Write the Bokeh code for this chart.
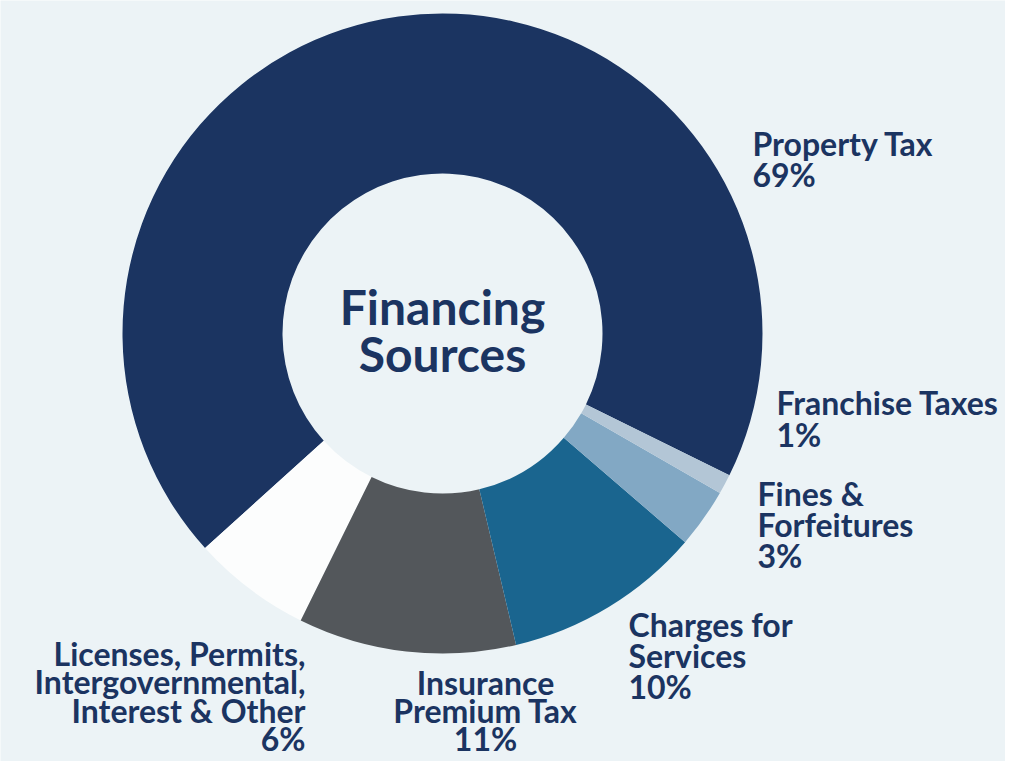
import math
from bokeh.plotting import figure
from bokeh.models import Range1d, ColumnDataSource
from bokeh.core.properties import value
from bokeh.embed import file_html
from bokeh.resources import INLINE

# ---- data ----
categories = ["Property Tax", "Licenses, Permits,\nIntergovernmental,\nInterest & Other",
              "Insurance\nPremium Tax", "Charges for\nServices", "Fines &\nForfeitures",
              "Franchise Taxes"]
percents = [69, 6, 11, 10, 3, 1]
colors = ["#1b3461", "#fcfdfd", "#53575b", "#1a658f", "#82a8c4", "#b3c6d6"]
center_title = ["Financing", "Sources"]

# ---- layout ----
W, H = 1005, 761
BG = "#ecf3f6"
TXT = "#1b3461"
FONT = "Lato"
cx, cy = 442, H - 333          # donut centre
r_out, r_in = 320, 160
start_deg = -26.3
LBL_SIZE, LBL_OFF = 32, 12
TTL_SIZE, TTL_OFF = 48, 19

# label anchors: (x, first baseline from top, line height, align)
label_pos = [(752, 155, 31, "left"), (305, 665, 28.3, "right"), (485, 694, 28, "center"),
             (628, 636, 31, "left"), (757, 505, 31, "left"), (776, 414, 32, "left")]

p = figure(width=W, height=H, output_backend="svg", toolbar_location=None,
           x_range=Range1d(0, W), y_range=Range1d(0, H), min_border=0,
           background_fill_color=BG, border_fill_color=BG)
p.axis.visible = False
p.grid.visible = False
p.outline_line_color = None

total = sum(percents)
starts, ends = [], []
a = math.radians(start_deg)
for v in percents:
    span = 2 * math.pi * v / total
    starts.append(a)
    ends.append(a + span)
    a += span

src = ColumnDataSource(dict(start=starts, end=ends, color=colors))
p.annular_wedge(x=cx, y=cy, inner_radius=r_in, outer_radius=r_out,
                start_angle="start", end_angle="end", fill_color="color",
                line_color=None, source=src)

# labels
tx, ty, tt, ta = [], [], [], []
for cat, pct, (lx, ly, lh, al) in zip(categories, percents, label_pos):
    lines = cat.split("\n") + [f"{pct}%"]
    for i, ln in enumerate(lines):
        tx.append(lx)
        ty.append(H - (ly + i * lh - LBL_OFF))
        tt.append(ln)
        ta.append(al)
lsrc = ColumnDataSource(dict(x=tx, y=ty, text=tt, align=ta))
p.text(x="x", y="y", text="text", text_align="align", source=lsrc,
       text_font=value(FONT), text_font_style="bold", text_font_size=f"{LBL_SIZE}px",
       text_color=TXT, text_baseline="alphabetic")

# centre title
p.text(x=[cx, cx], y=[H - (325 - TTL_OFF), H - (372 - TTL_OFF)], text=center_title,
       text_align="center", text_baseline="alphabetic", text_font=value(FONT),
       text_font_style="bold", text_font_size=f"{TTL_SIZE}px", text_color=TXT)

open("out.html", "w").write(file_html(p, INLINE))
